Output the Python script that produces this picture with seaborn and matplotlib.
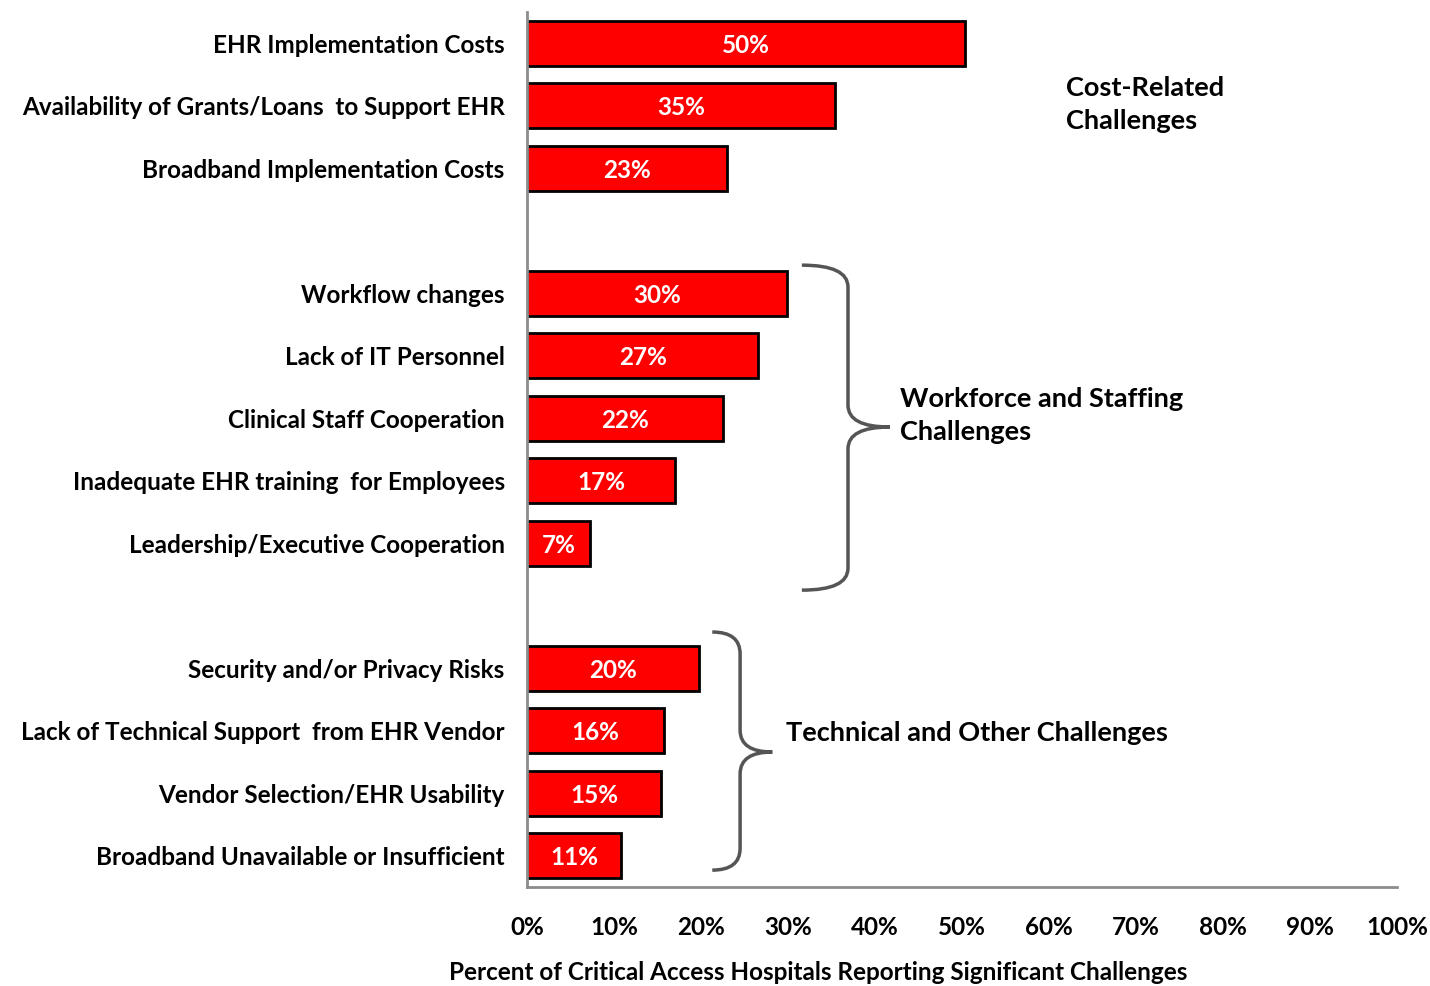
import numpy as np
import pandas as pd
import seaborn as sns
import matplotlib.pyplot as plt
from matplotlib.path import Path
from matplotlib.patches import PathPatch

# data
cost_cats = ['EHR Implementation Costs', 'Availability of Grants/Loans  to Support EHR',
             'Broadband Implementation Costs']
cost_vals = [50.4, 35.4, 23.0]
cost_lbls = ['50%', '35%', '23%']

work_cats = ['Workflow changes', 'Lack of IT Personnel', 'Clinical Staff Cooperation',
             'Inadequate EHR training  for Employees', 'Leadership/Executive Cooperation']
work_vals = [29.9, 26.6, 22.5, 17.0, 7.3]
work_lbls = ['30%', '27%', '22%', '17%', '7%']

tech_cats = ['Security and/or Privacy Risks', 'Lack of Technical Support  from EHR Vendor',
             'Vendor Selection/EHR Usability', 'Broadband Unavailable or Insufficient']
tech_vals = [19.8, 15.7, 15.4, 10.8]
tech_lbls = ['20%', '16%', '15%', '11%']

x_ticks = [0, 10, 20, 30, 40, 50, 60, 70, 80, 90, 100]
x_title = 'Percent of Critical Access Hospitals Reporting Significant Challenges'

# build the table, one empty row between groups
rows = []
pos = 0
for cats, vals, lbls in [(cost_cats, cost_vals, cost_lbls),
                         (work_cats, work_vals, work_lbls),
                         (tech_cats, tech_vals, tech_lbls)]:
    for c, v, l in zip(cats, vals, lbls):
        rows.append({'cat': c, 'val': v, 'lbl': l, 'pos': pos})
        pos += 1
    pos += 1
df = pd.DataFrame(rows)
nrows = pos - 1

sns.set_style('white')
plt.rcParams['font.family'] = ['Lato', 'DejaVu Sans']
plt.rcParams['font.weight'] = 'bold'
plt.rcParams['text.color'] = 'black'
plt.rcParams['xtick.labelcolor'] = 'black'
plt.rcParams['ytick.labelcolor'] = 'black'

fs = 17.5

fig = plt.figure(figsize=(14.3, 9.86), dpi=100)
ax = fig.add_axes([0.3685, 0.1004, 0.6084, 0.8874])

sns.barplot(data=df, x='val', y='pos', orient='h', native_scale=True,
            color='#ff0000', saturation=1, width=0.72,
            edgecolor='black', linewidth=2, ax=ax)

for _, r in df.iterrows():
    ax.text(r['val'] / 2, r['pos'], r['lbl'], ha='center', va='center_baseline',
            color='white', fontsize=fs, fontweight='bold')

ax.set_xlim(0, 100)
ax.set_ylim(nrows - 0.5, -0.5)
ax.set_xticks(x_ticks)
ax.set_xticklabels([f'{t}%' for t in x_ticks], fontsize=fs, fontweight='bold')
ax.set_yticks(df['pos'])
ax.set_yticklabels(df['cat'], fontsize=fs, fontweight='bold')
ax.set_yticks(np.arange(-0.5, nrows, 1.0), minor=True)
ax.tick_params(axis='y', which='major', length=0, pad=16)
ax.tick_params(axis='y', which='minor', length=7, width=2, color='#8c8c8c', direction='out')
ax.tick_params(axis='x', length=7, width=2, color='#8c8c8c', direction='out', pad=14)
ax.set_xlabel('')
ax.set_ylabel('')
for s in ['top', 'right']:
    ax.spines[s].set_visible(False)
for s in ['left', 'bottom']:
    ax.spines[s].set_color('#8c8c8c')
    ax.spines[s].set_linewidth(2)

fig.text(0.572, 0.002, x_title, ha='center', va='bottom', fontsize=fs, fontweight='bold')


def brace(ax, x_tip, x_spine, x_point, y_top, y_mid, y_bot):
    dy = 0.35
    verts = [(x_tip, y_top), (x_spine, y_top), (x_spine, y_top + dy),
             (x_spine, y_mid - dy), (x_spine, y_mid), (x_point, y_mid),
             (x_spine, y_mid), (x_spine, y_mid + dy),
             (x_spine, y_bot - dy), (x_spine, y_bot), (x_tip, y_bot)]
    codes = [Path.MOVETO, Path.CURVE3, Path.CURVE3,
             Path.LINETO, Path.CURVE3, Path.CURVE3,
             Path.CURVE3, Path.CURVE3,
             Path.LINETO, Path.CURVE3, Path.CURVE3]
    ax.add_patch(PathPatch(Path(verts, codes), fill=False, edgecolor='#555555',
                           lw=2.5, clip_on=False))


brace(ax, 31.6, 36.9, 41.7, 3.55, 6.14, 8.75)
brace(ax, 21.3, 24.5, 28.2, 9.42, 11.34, 13.23)

afs = 19.5
ax.text(62.0, 0.98, 'Cost-Related\nChallenges', fontsize=afs, fontweight='bold',
        va='center', ha='left', linespacing=1.45)
ax.text(42.9, 5.96, 'Workforce and Staffing\nChallenges', fontsize=afs, fontweight='bold',
        va='center', ha='left', linespacing=1.45)
ax.text(29.8, 11.0, 'Technical and Other Challenges', fontsize=afs, fontweight='bold',
        va='center_baseline', ha='left')

fig.savefig('out.png', dpi=100)
